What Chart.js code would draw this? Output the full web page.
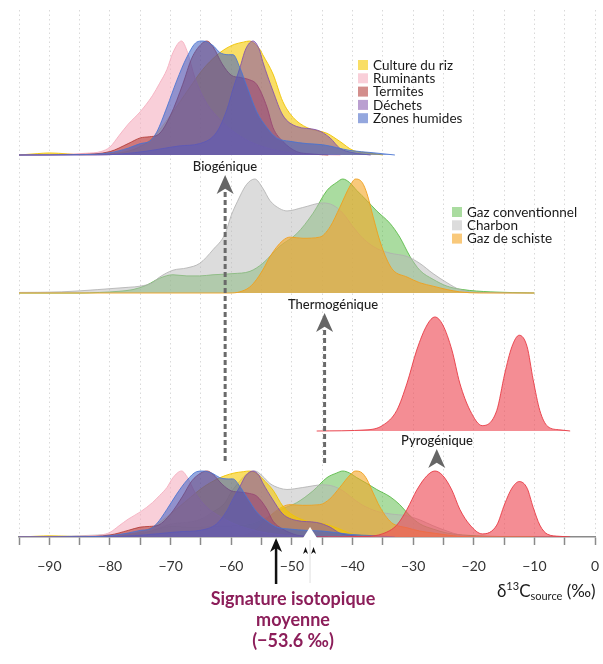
<!DOCTYPE html>
<html lang="fr">
<head>
<meta charset="UTF-8">
<title>Sources de méthane - signature isotopique</title>
<script src="https://cdn.jsdelivr.net/npm/chart.js"></script>
<style>
  body { margin: 0; background: #fff; }
  canvas { display: block; }
</style>
</head>
<body>
<canvas id="sources" width="603" height="664"></canvas>
<script>
// densités (1 = sommet de chaque courbe), abscisse = δ13C (‰)
const rizX = [-95, -92, -90, -87, -85, -80, -76, -73, -70, -67, -64.7, -62.5, -61, -59.5, -58, -57, -56, -55.2, -54.8, -53.1, -51.5, -49.8, -47.5, -44.2, -42.1, -39.9, -37.6, -35];
const rizY = [0, 0.012, 0.018, 0.01, 0.003, 0.01, 0.05, 0.15, 0.35, 0.58, 0.75, 0.87, 0.93, 0.97, 0.99, 1.0, 0.97, 0.92, 0.88, 0.71, 0.47, 0.33, 0.24, 0.19, 0.12, 0.04, 0.02, 0];

const ruminantsX = [-95, -88, -84, -81.5, -80, -78.5, -77, -75, -73, -71.8, -70.6, -69.6, -68.2, -67.2, -66, -64, -62, -60, -57, -54, -50, -46, -42];
const ruminantsY = [0, 0.005, 0.015, 0.03, 0.07, 0.17, 0.27, 0.38, 0.52, 0.63, 0.75, 0.9, 1.0, 0.9, 0.68, 0.45, 0.32, 0.22, 0.12, 0.06, 0.02, 0.005, 0];

const termitesX = [-95, -85, -80, -77, -75, -73.5, -72, -70, -68, -66.5, -65, -64, -63, -61.5, -60, -58.5, -57, -55.8, -54.1, -53.1, -51.5, -49.2, -47, -44];
const termitesY = [0, 0.005, 0.03, 0.1, 0.15, 0.16, 0.18, 0.35, 0.62, 0.85, 0.97, 1.0, 0.95, 0.8, 0.7, 0.68, 0.66, 0.62, 0.42, 0.24, 0.12, 0.03, 0.01, 0];

const dechetsX = [-95, -82, -76, -72, -68.5, -65.2, -62.4, -60.7, -59.7, -58.6, -57.6, -56.4, -55.4, -54.8, -53.1, -51.5, -49.2, -45.9, -43.7, -42.1, -39.9, -37];
const dechetsY = [0, 0, 0.02, 0.05, 0.08, 0.1, 0.2, 0.4, 0.58, 0.76, 0.93, 1.0, 0.93, 0.82, 0.56, 0.35, 0.25, 0.22, 0.15, 0.06, 0.02, 0];

const humidesX = [-95, -85, -80, -77, -75, -73.5, -72.3, -70.6, -69, -67.3, -65.7, -64.7, -63, -61.9, -60.5, -59.7, -58.6, -57.4, -55.8, -54.1, -52.5, -50.3, -47.5, -44.9, -40.4, -36.6, -33];
const humidesY = [0, 0.003, 0.02, 0.06, 0.1, 0.12, 0.2, 0.42, 0.65, 0.86, 0.99, 1.0, 0.96, 0.9, 0.88, 0.88, 0.77, 0.6, 0.38, 0.24, 0.15, 0.12, 0.1, 0.09, 0.04, 0.02, 0];

const gazConvX = [-95, -85, -81.7, -78.5, -76.2, -73.9, -71.8, -69.6, -67.3, -65.2, -63, -59.7, -56.9, -54.8, -52, -49.2, -46.5, -44.2, -42.6, -41.6, -40.5, -39.3, -37.6, -36, -33.8, -32.2, -30.5, -28.9, -26.7, -24.4, -21.8, -17.3, -10];
const gazConvY = [0, 0, 0.005, 0.015, 0.03, 0.07, 0.13, 0.16, 0.15, 0.15, 0.16, 0.17, 0.19, 0.26, 0.41, 0.52, 0.7, 0.9, 0.97, 1.0, 0.97, 0.9, 0.81, 0.72, 0.61, 0.49, 0.32, 0.2, 0.12, 0.06, 0.03, 0.01, 0];

const charbonX = [-95, -88, -82, -77, -75, -73, -71.8, -69.6, -67.3, -65.2, -63, -61, -60, -59, -57.5, -56.1, -54.8, -53.6, -52, -50.8, -48.2, -44.9, -43.2, -41.6, -39.9, -38.3, -36, -33.8, -31, -28.9, -26.7, -24.4, -22.3, -19, -10];
const charbonY = [0.005, 0.01, 0.03, 0.05, 0.06, 0.09, 0.14, 0.2, 0.22, 0.26, 0.38, 0.52, 0.68, 0.8, 0.95, 1.0, 0.92, 0.81, 0.74, 0.72, 0.75, 0.79, 0.77, 0.7, 0.58, 0.48, 0.39, 0.35, 0.32, 0.26, 0.17, 0.09, 0.03, 0.005, 0];

const schisteX = [-95, -70, -60.2, -58.6, -57, -55.8, -54.6, -53.6, -51.5, -50.3, -48.2, -45.4, -43.7, -42.1, -40.4, -39.5, -38.4, -37.6, -36.6, -35.5, -34.3, -33.3, -31, -28.9, -26.7, -24.4, -22.3, -19, -10];
const schisteY = [0, 0, 0, 0.01, 0.05, 0.12, 0.22, 0.32, 0.46, 0.49, 0.48, 0.49, 0.58, 0.75, 0.94, 1.0, 0.97, 0.87, 0.67, 0.46, 0.29, 0.2, 0.14, 0.09, 0.06, 0.03, 0.01, 0, 0];

const pyroX = [-45.9, -37.6, -35, -32.7, -31, -29.4, -27.7, -26.4, -25.1, -23.6, -22.3, -20.6, -18.6, -16.2, -14.9, -13.7, -12.5, -11.2, -10.2, -9.1, -7.8, -5.8, -4.1];
const pyroY = [0, 0.01, 0.05, 0.18, 0.42, 0.71, 0.93, 1.0, 0.93, 0.71, 0.42, 0.18, 0.047, 0.18, 0.5, 0.74, 0.84, 0.74, 0.45, 0.18, 0.04, 0.01, 0];

// graduations de l'axe
const tickMin = -95, tickMax = 0, tickPas = 5;
const signatureMoyenne = '(−53.6 ‰)';

// lignes de base des panneaux (unités = pixels au-dessus de l'axe)
const baseBio = 382, baseThermo = 244, basePyro = 106;
const hauteur = 114, hauteurTotal = 66;

// ordre d'empilement : du fond vers l'avant
const sources = [
  { nom: 'Gaz conventionnel', xs: gazConvX, ys: gazConvY, base: baseThermo, fond: 'rgba(85,185,65,0.5)', trait: 'rgba(85,185,65,0.85)' },
  { nom: 'Charbon', xs: charbonX, ys: charbonY, base: baseThermo, fond: 'rgba(185,185,185,0.5)', trait: 'rgba(175,175,175,0.8)' },
  { nom: 'Gaz de schiste', xs: schisteX, ys: schisteY, base: baseThermo, fond: 'rgba(245,165,35,0.6)', trait: 'rgba(240,160,30,0.9)' },
  { nom: 'Culture du riz', xs: rizX, ys: rizY, base: baseBio, fond: 'rgba(245,200,0,0.6)', trait: 'rgba(240,195,0,0.9)' },
  { nom: 'Ruminants', xs: ruminantsX, ys: ruminantsY, base: baseBio, fond: 'rgba(245,175,192,0.6)', trait: 'rgba(245,175,192,0.9)' },
  { nom: 'Termites', xs: termitesX, ys: termitesY, base: baseBio, fond: 'rgba(175,50,45,0.55)', trait: 'rgba(175,50,45,0.8)' },
  { nom: 'Déchets', xs: dechetsX, ys: dechetsY, base: baseBio, fond: 'rgba(130,80,170,0.55)', trait: 'rgba(130,80,170,0.85)' },
  { nom: 'Zones humides', xs: humidesX, ys: humidesY, base: baseBio, fond: 'rgba(60,95,195,0.55)', trait: 'rgba(70,115,210,0.85)' },
  { nom: 'Pyrogénique', xs: pyroX, ys: pyroY, base: basePyro, fond: 'rgba(238,80,90,0.65)', trait: 'rgba(232,60,70,0.9)' }
];

const datasets = [];
sources.forEach((s, i) => {
  [[s.base, hauteur], [0, hauteurTotal]].forEach(([base, h]) => {
    datasets.push({
      label: s.nom,
      data: s.xs.map((x, j) => ({ x: x, y: base + s.ys[j] * h })),
      fill: { value: base },
      backgroundColor: s.fond,
      borderColor: s.trait,
      borderWidth: 1,
      pointRadius: 0,
      cubicInterpolationMode: 'monotone',
      order: sources.length - i
    });
  });
});

function fleche(ctx, x, pointe, couleur, larg, haut) {
  ctx.fillStyle = couleur;
  ctx.beginPath();
  ctx.moveTo(x, pointe);
  ctx.lineTo(x - larg, pointe + haut);
  ctx.lineTo(x, pointe + haut * 0.72);
  ctx.lineTo(x + larg, pointe + haut);
  ctx.closePath();
  ctx.fill();
}

function legende(ctx, noms, x, y) {
  ctx.font = '13.5px Lato';
  ctx.textAlign = 'left';
  ctx.textBaseline = 'middle';
  noms.forEach((nom, i) => {
    const s = sources.find(d => d.nom === nom);
    const yy = y + i * 13.3;
    ctx.fillStyle = s.fond;
    ctx.fillRect(x, yy - 5, 10, 10);
    ctx.fillStyle = '#1a1a1a';
    ctx.fillText(nom, x + 15, yy + 0.5);
  });
}

const annotations = {
  id: 'annotations',
  afterDatasetsDraw(chart) {
    const ctx = chart.ctx;
    const sx = chart.scales.x;
    ctx.save();

    // flèches pointillées vers chaque famille
    ctx.strokeStyle = '#6a6a6a';
    ctx.lineWidth = 3;
    ctx.setLineDash([5, 3]);
    [[-61, 192, 464], [-44.6, 330, 464]].forEach(([v, y1, y2]) => {
      const x = sx.getPixelForValue(v);
      ctx.beginPath();
      ctx.moveTo(x, y1);
      ctx.lineTo(x, y2);
      ctx.stroke();
    });
    ctx.setLineDash([]);
    fleche(ctx, sx.getPixelForValue(-61), 175, '#666', 8.5, 19);
    fleche(ctx, sx.getPixelForValue(-44.6), 313, '#666', 8.5, 19);
    fleche(ctx, sx.getPixelForValue(-26.1), 449, '#666', 8.5, 19);

    // noms des familles
    ctx.fillStyle = '#1e1e1e';
    ctx.font = '500 13px Lato';
    ctx.textAlign = 'center';
    ctx.textBaseline = 'middle';
    ctx.fillText('Biogénique', 225, 167);
    ctx.fillText('Thermogénique', 333, 305);
    ctx.fillText('Pyrogénique', 437, 441);

    legende(ctx, ['Culture du riz', 'Ruminants', 'Termites', 'Déchets', 'Zones humides'], 358, 65);
    legende(ctx, ['Gaz conventionnel', 'Charbon', 'Gaz de schiste'], 452, 212);

    // repère blanc sur l'axe
    const xb = sx.getPixelForValue(-47);
    ctx.fillStyle = '#fff';
    ctx.beginPath();
    ctx.moveTo(xb, 527);
    ctx.lineTo(xb - 7, 538);
    ctx.lineTo(xb + 7, 538);
    ctx.closePath();
    ctx.fill();
    ctx.strokeStyle = 'rgba(200,200,200,0.6)';
    ctx.lineWidth = 1;
    ctx.beginPath();
    ctx.moveTo(xb, 540);
    ctx.lineTo(xb, 583);
    ctx.stroke();
    fleche(ctx, xb - 4.5, 547, '#111', 2.5, 7);
    fleche(ctx, xb + 3.5, 547, '#111', 2.5, 7);

    // signature moyenne
    const xm = sx.getPixelForValue(-52.6);
    ctx.strokeStyle = '#111';
    ctx.lineWidth = 2.5;
    ctx.beginPath();
    ctx.moveTo(xm, 548);
    ctx.lineTo(xm, 584);
    ctx.stroke();
    fleche(ctx, xm, 538, '#111', 6, 14);

    ctx.fillStyle = '#8c1e5a';
    ctx.font = 'bold 18px Lato';
    ctx.textAlign = 'center';
    ctx.textBaseline = 'alphabetic';
    ctx.fillText('Signature isotopique', 293, 605);
    ctx.fillText('moyenne', 293, 626);
    ctx.fillText(signatureMoyenne, 293, 647);

    // titre de l'axe : δ13C source (‰)
    ctx.fillStyle = '#1a1a1a';
    ctx.textAlign = 'left';
    let x = 497;
    [['δ', 17, 0], ['13', 11, -7], ['C', 17, 0], ['source', 11, 3], [' (‰)', 17, 0]].forEach(([t, taille, dy]) => {
      ctx.font = taille + 'px Lato';
      ctx.fillText(t, x, 597 + dy);
      x += ctx.measureText(t).width;
    });
    ctx.restore();
  }
};

Chart.defaults.font.family = 'Lato';
new Chart(document.getElementById('sources').getContext('2d'), {
  type: 'line',
  data: { datasets: datasets },
  options: {
    responsive: false,
    animation: false,
    devicePixelRatio: 1,
    layout: { padding: { left: 19, right: 8, top: 10, bottom: 87 } },
    plugins: { legend: { display: false }, tooltip: { enabled: false } },
    scales: {
      x: {
        type: 'linear',
        min: tickMin,
        max: tickMax,
        afterFit: scale => {
          scale.height = 40;
          scale.paddingLeft = 0;
          scale.paddingRight = 0;
        },
        ticks: {
          stepSize: tickPas,
          autoSkip: false,
          maxRotation: 0,
          padding: 13,
          color: '#333',
          font: { size: 14 },
          callback: v => (v % 10 === 0 ? (v < 0 ? '−' + Math.abs(v) : '0') : '')
        },
        grid: {
          color: '#d9d9d9',
          lineWidth: 1,
          tickLength: 8,
          tickColor: '#8a8a8a',
          tickWidth: 1.5
        },
        border: { color: '#8a8a8a', width: 1.5, dash: [1.5, 3] }
      },
      y: { display: false, min: 0, max: 527 }
    }
  },
  plugins: [annotations]
});
</script>
</body>
</html>
